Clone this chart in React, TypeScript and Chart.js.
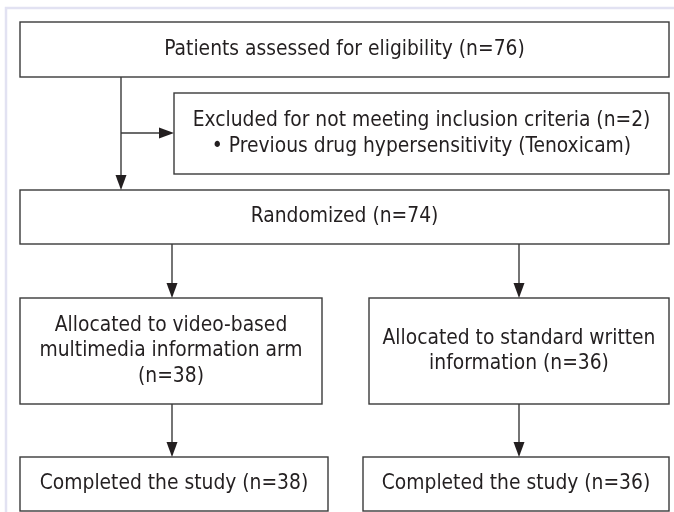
import React, { useEffect, useRef } from "react";
import { Chart, registerables } from "chart.js";

Chart.register(...registerables);

// ---- Data (flow counts and labels) ----
const assessedLabel = ["Patients assessed for eligibility (n=76)"];
const excludedLabel = [
  "Excluded for not meeting inclusion criteria (n=2)",
  "\u2022 Previous drug hypersensitivity (Tenoxicam)",
];
const randomizedLabel = ["Randomized (n=74)"];
const allocatedLabels = [
  ["Allocated to video-based", "multimedia information arm", "(n=38)"],
  ["Allocated to standard written", "information (n=36)"],
];
const completedLabels = [["Completed the study (n=38)"], ["Completed the study (n=36)"]];

// ---- Layout (in chart scale units: x 0..674, y 0..512 top-down) ----
type Box = { x0: number; x1: number; y0: number; y1: number; lines: string[] };
const boxes: Box[] = [
  { x0: 20, x1: 669, y0: 22, y1: 77, lines: assessedLabel },
  { x0: 174, x1: 669, y0: 93, y1: 174, lines: excludedLabel },
  { x0: 20, x1: 669, y0: 190, y1: 244, lines: randomizedLabel },
  { x0: 20, x1: 322, y0: 298, y1: 404, lines: allocatedLabels[0] },
  { x0: 369, x1: 669, y0: 298, y1: 404, lines: allocatedLabels[1] },
  { x0: 20, x1: 328, y0: 457, y1: 511, lines: completedLabels[0] },
  { x0: 363, x1: 669, y0: 457, y1: 511, lines: completedLabels[1] },
];
// [x0, y0, x1, y1, arrow at end?]
const connectors: [number, number, number, number, boolean][] = [
  [121, 77, 121, 190, true],
  [121, 133, 174, 133, true],
  [172, 244, 172, 298, true],
  [519, 244, 519, 298, true],
  [172, 404, 172, 457, true],
  [519, 404, 519, 457, true],
];

const FONT = '20.8px "DejaVu Sans Condensed", Tahoma, "DejaVu Sans", sans-serif';
const LINE_H = 25.5;
const TEXT_COLOR = "#231f20";
const LINE_COLOR = "#3a3a3a";

const flowPlugin = {
  id: "flow",
  afterDraw(chart: any) {
    const ctx: CanvasRenderingContext2D = chart.ctx;
    const sx = chart.scales.x;
    const sy = chart.scales.y;
    const px = (v: number) => sx.getPixelForValue(v);
    const py = (v: number) => sy.getPixelForValue(v);
    ctx.save();
    // background
    ctx.fillStyle = "#ffffff";
    ctx.fillRect(0, 0, chart.width, chart.height);
    // frame
    ctx.strokeStyle = "#e2e2f2";
    ctx.lineWidth = 2.5;
    ctx.beginPath();
    ctx.moveTo(px(6), py(512));
    ctx.lineTo(px(6), py(8));
    ctx.lineTo(px(674), py(8));
    ctx.stroke();

    // boxes
    ctx.strokeStyle = LINE_COLOR;
    ctx.lineWidth = 1.4;
    ctx.font = FONT;
    ctx.fillStyle = TEXT_COLOR;
    ctx.textAlign = "center";
    ctx.textBaseline = "middle";
    for (const b of boxes) {
      const x0 = px(b.x0), x1 = px(b.x1), y0 = py(b.y0), y1 = py(b.y1);
      ctx.strokeRect(x0, y0, x1 - x0, y1 - y0);
      const cx = (x0 + x1) / 2;
      const cy = (y0 + y1) / 2;
      const n = b.lines.length;
      b.lines.forEach((t, i) => {
        ctx.fillText(t, cx, cy + (i - (n - 1) / 2) * LINE_H);
      });
    }

    // connectors
    for (const [a, b, c, d, arrow] of connectors) {
      const x0 = px(a), y0 = py(b), x1 = px(c), y1 = py(d);
      const ang = Math.atan2(y1 - y0, x1 - x0);
      const L = 15, W = 5.5;
      const ex = arrow ? x1 - Math.cos(ang) * L : x1;
      const ey = arrow ? y1 - Math.sin(ang) * L : y1;
      ctx.strokeStyle = LINE_COLOR;
      ctx.lineWidth = 1.4;
      ctx.beginPath();
      ctx.moveTo(x0, y0);
      ctx.lineTo(ex, ey);
      ctx.stroke();
      if (arrow) {
        ctx.fillStyle = "#231f20";
        ctx.beginPath();
        ctx.moveTo(x1, y1);
        ctx.lineTo(ex - Math.sin(ang) * W, ey + Math.cos(ang) * W);
        ctx.lineTo(ex + Math.sin(ang) * W, ey - Math.cos(ang) * W);
        ctx.closePath();
        ctx.fill();
      }
    }
    ctx.restore();
  },
};

export default function App() {
  const ref = useRef<HTMLCanvasElement | null>(null);
  useEffect(() => {
    if (!ref.current) return;
    const chart = new Chart(ref.current, {
      type: "scatter",
      data: { datasets: [{ data: [], pointRadius: 0 }] },
      options: {
        animation: false,
        responsive: false,
        maintainAspectRatio: false,
        layout: { padding: 0 },
        scales: {
          x: { type: "linear", min: 0, max: 674, display: false },
          y: { type: "linear", min: 0, max: 512, reverse: true, display: false },
        },
        plugins: { legend: { display: false }, tooltip: { enabled: false }, title: { display: false } },
      },
      plugins: [flowPlugin],
    });
    return () => chart.destroy();
  }, []);
  return (
    <div style={{ position: "fixed", left: 0, top: 0, width: 674, height: 512, background: "#fff" }}>
      <canvas ref={ref} width={674} height={512} style={{ display: "block" }} />
    </div>
  );
}
